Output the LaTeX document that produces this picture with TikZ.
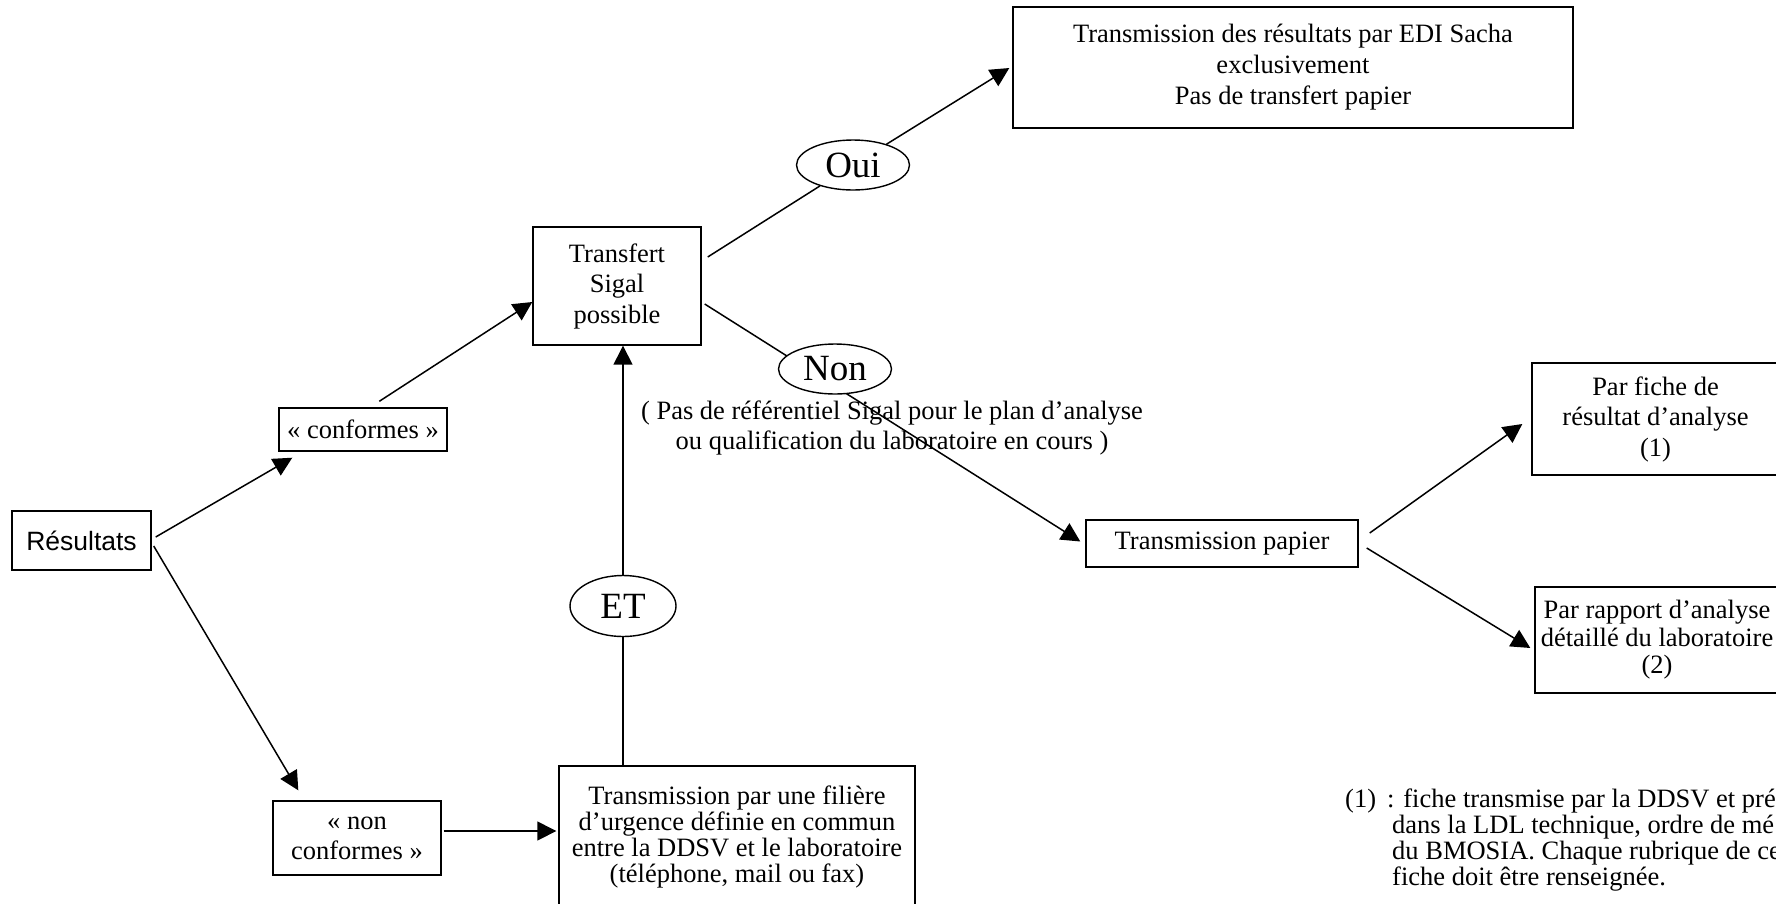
\documentclass[tikz,border=0pt]{standalone}
\usepackage{fontspec}
\setmainfont{Liberation Serif}
\newfontfamily\arialfont{Liberation Sans}
\usetikzlibrary{arrows.meta,calc,shapes.geometric}
\tikzset{
  box/.style={draw, line width=1.4pt, inner sep=0pt, align=center, font=\fontsize{26.5}{31}\selectfont},
  oval/.style={draw, ellipse, line width=1.4pt, fill=white, inner sep=0pt,
    minimum width=106pt, minimum height=61pt, font=\fontsize{37}{40}\selectfont},
  flatoval/.style={oval, minimum width=113pt, minimum height=50pt},
  conn/.style={line width=1.5pt},
  arr/.style={conn, -{Triangle[length=19pt,width=19pt]}},
  fntxt/.style={anchor=base west, inner sep=0pt, font=\fontsize{26.5}{26}\selectfont},
}
\begin{document}
\begin{tikzpicture}[x=1pt,y=-1pt]
\useasboundingbox (0,0) rectangle (1776,903);
\fill[white] (0,0) rectangle (1776,903);

% boxes
\node[box, minimum width=139pt, minimum height=59pt, font=\arialfont\fontsize{26.5}{31}\selectfont] (res) at (81.5,540.5) {Résultats};
\node[box, minimum width=168pt, minimum height=43pt] (conf) at (363,429.5) {«~conformes~»};
\node[box, minimum width=168pt, minimum height=118pt, font=\fontsize{26.5}{30.5}\selectfont] (tr) at (617,286) {Transfert\\Sigal\\possible};
\node[box, minimum width=560pt, minimum height=121pt] (top) at (1293,67.5) {Transmission des résultats par EDI Sacha\\exclusivement\\Pas de transfert papier};
\node[box, minimum width=272pt, minimum height=47pt] (tp) at (1222,543.5) {Transmission papier};
\node[box, minimum width=247pt, minimum height=112pt, font=\fontsize{26.5}{30.5}\selectfont] (fiche) at (1655.5,419) {Par fiche de\\résultat d’analyse\\(1)};
\node[box, minimum width=244pt, minimum height=106pt, font=\fontsize{26.5}{27.5}\selectfont] (rapport) at (1657,640) {Par rapport d’analyse\\détaillé du laboratoire\\(2)};
\node[box, minimum width=168pt, minimum height=74pt, font=\fontsize{26.5}{30}\selectfont] (nonc) at (357,838) {«~non\\conformes~»};
\node[box, minimum width=356pt, minimum height=142pt, font=\fontsize{26.5}{26}\selectfont] (fil) at (737,837) {Transmission par une filière\\d’urgence définie en commun\\entre la DDSV et le laboratoire\\(téléphone, mail ou fax)};

% note under the Non branch
\node[align=center, inner sep=0pt, font=\fontsize{26.5}{30}\selectfont] (note) at (892,428) {( Pas de référentiel Sigal pour le plan d’analyse\\ou qualification du laboratoire en cours )};

% Oui decision
\node[flatoval] (oui) at (853,165) {Oui};

% connectors
\draw[arr] ($(res.east)+(4,-3.5)$) -- ($(conf.south west)+(14,6)$);
\draw[arr] ($(res.east)+(2,5.5)$) -- ($(nonc.north west)+(26,-10)$);
\draw[arr] ($(conf.north west)+(101,-6)$) -- ($(tr.west)+(0,16)$);
\draw[conn] ($(tr.east)+(6,-29)$) -- (oui);
\draw[arr] (oui) -- ($(top.west)+(-3,0.5)$);
\draw[arr] ($(tr.east)+(3,18)$) -- ($(tp.west)+(-5,-2)$);
\draw[arr] ($(nonc.east)+(2,-7)$) -- ($(fil.west)+(-2,-6)$);
\draw[arr] ($(tp.east)+(11,-10.5)$) -- ($(fiche.west)+(-9,5)$);
\draw[arr] ($(tp.east)+(8,4.5)$) -- ($(rapport.west)+(-4,8)$);

% ET on the vertical link
\node[oval] (et) at (623,606) {ET};
\draw[conn] (et) -- (et |- fil.north);
\draw[arr] (et) -- (et |- tr.south);

% Non decision (drawn over the line)
\node[flatoval] (non) at (835,369) {Non};

% footnote
\node[fntxt] (fnlabel) at (1345,807) {(1)};
\node[fntxt] (fn1) at (1387,807) {: fiche transmise par la DDSV et pré};
\node[fntxt] (fn2) at (1392,833) {dans la LDL technique, ordre de mé};
\node[fntxt] (fn3) at (1392,859) {du BMOSIA. Chaque rubrique de ce};
\node[fntxt] (fn4) at (1392,885) {fiche doit être renseignée.};
\end{tikzpicture}
\end{document}
